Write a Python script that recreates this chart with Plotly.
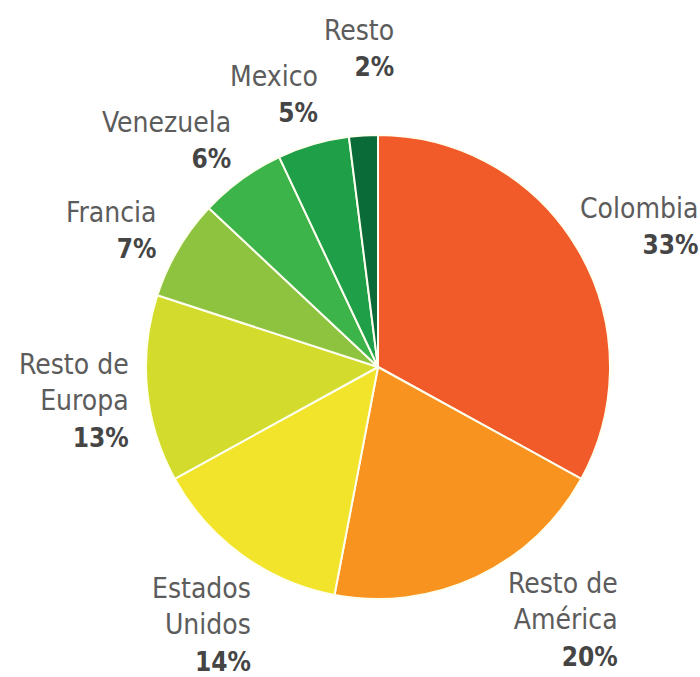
import math
import plotly.graph_objects as go

# ---- data ----
labels = ["Colombia", "Resto de América", "Estados Unidos", "Resto de Europa",
          "Francia", "Venezuela", "Mexico", "Resto"]
label_lines = ["Colombia", "Resto de<br>América", "Estados<br>Unidos", "Resto de<br>Europa",
               "Francia", "Venezuela", "Mexico", "Resto"]
values = [33, 20, 14, 13, 7, 6, 5, 2]

colors = ["#F15A29", "#F7931E", "#F2E42A", "#D3DB2C", "#8DC33F",
          "#3DB44A", "#1E9F48", "#0A6B38"]

W, H = 700, 677
CX, CY, R = 378, 367, 232

# label layout: pixel offsets of each label's right edge / vertical centre
# from the slice's mid-angle point on the rim
label_dx = [122, 143, 11, -16, -19, -9, 7, 33]
label_dy = [-23, 43, 70, 12, -19, -39, -50, -87]

fig = go.Figure(go.Pie(
    labels=labels, values=values, sort=False, direction="clockwise", rotation=0,
    marker=dict(colors=colors, line=dict(color="#FFFFF0", width=2)),
    textinfo="none", hoverinfo="label+percent", showlegend=False,
    domain=dict(x=[(CX - R) / W, (CX + R) / W], y=[1 - (CY + R) / H, 1 - (CY - R) / H]),
))

total = sum(values)
cum = 0
for i, v in enumerate(values):
    mid = (cum + v / 2) / total * 2 * math.pi
    cum += v
    px = CX + R * math.sin(mid) + label_dx[i]
    py = CY - R * math.cos(mid) + label_dy[i]
    pct = round(v / total * 100)
    fig.add_annotation(
        x=px / W, y=1 - py / H, xref="paper", yref="paper",
        xanchor="right", yanchor="middle", align="right", showarrow=False,
        text=(f"{label_lines[i]}<br><b><span style='color:#454545;"
              f"font-size:26px'>{pct}%</span></b>"),
        font=dict(family="DejaVu Sans Condensed, DejaVu Sans", size=28, color="#5c5c5c"),
    )

fig.update_layout(width=W, height=H, margin=dict(l=0, r=0, t=0, b=0),
                  paper_bgcolor="white", plot_bgcolor="white")
fig.write_html("out.html", config={"displayModeBar": False},
               post_script="document.body.style.margin='0';")
